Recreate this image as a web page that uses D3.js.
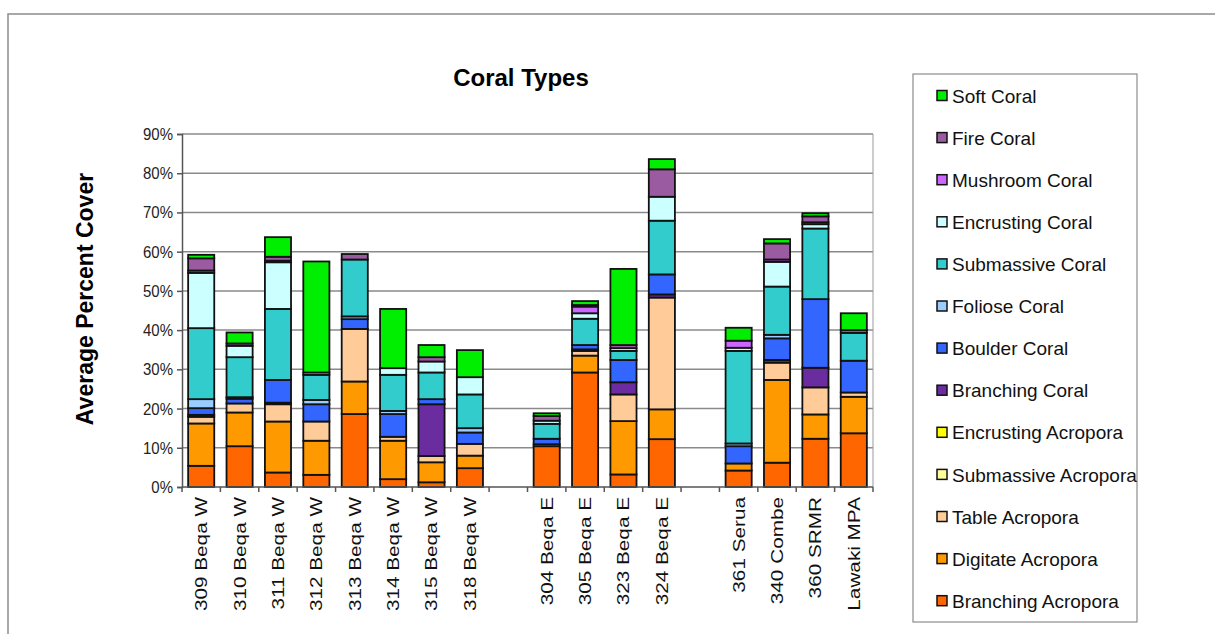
<!DOCTYPE html>
<html>
<head>
<meta charset="utf-8">
<script src="https://cdn.jsdelivr.net/npm/d3@7"></script>
<style>
  body { margin: 0; background: #fff; }
  svg { display: block; font-family: Arial, "Liberation Sans", sans-serif; }
</style>
</head>
<body>
<div id="chart"></div>
<script>
// sites along the x axis, "" = empty slot between the site groups
const sites = ["309 Beqa W", "310 Beqa W", "311 Beqa W", "312 Beqa W", "313 Beqa W", "314 Beqa W", "315 Beqa W", "318 Beqa W", "",
  "304 Beqa E", "305 Beqa E", "323 Beqa E", "324 Beqa E", "",
  "361 Serua", "340 Combe", "360 SRMR", "Lawaki MPA"];

// percent cover per coral type (bottom of the stack first)
const branchingAcropora  = [5.4, 10.4, 3.7, 3.1, 18.6, 2.0, 1.2, 4.8, 0, 10.4, 29.2, 3.2, 12.2, 0, 4.2, 6.2, 12.3, 13.7];
const digitateAcropora   = [10.8, 8.6, 13.0, 8.7, 8.3, 9.8, 5.1, 3.2, 0, 0, 4.3, 13.6, 7.6, 0, 1.8, 21.1, 6.2, 9.3];
const tableAcropora      = [1.7, 2.3, 4.4, 4.9, 13.4, 1.0, 1.6, 3.0, 0, 0.5, 1.2, 6.8, 28.5, 0, 0, 4.4, 6.9, 1.1];
const submassiveAcropora = [0, 0, 0, 0, 0, 0, 0, 0, 0, 0, 0, 0, 0, 0, 0, 0, 0, 0];
const encrustingAcropora = [0, 0, 0, 0, 0, 0, 0, 0, 0, 0, 0, 0, 0, 0, 0, 0, 0, 0];
const branchingCoral     = [0.5, 0, 0.4, 0, 0, 0, 13.2, 0, 0, 0, 0.4, 3.1, 0.8, 0, 0, 0.7, 5.0, 0];
const boulderCoral       = [1.7, 1.2, 5.8, 4.4, 2.5, 5.8, 1.3, 2.9, 0, 1.4, 1.1, 5.7, 5.1, 0, 4.4, 5.5, 17.5, 8.1];
const folioseCoral       = [2.3, 0.4, 0, 1.1, 0.7, 0.8, 0, 1.1, 0, 0, 0, 0, 0, 0, 0.7, 0.9, 0, 0];
const submassiveCoral    = [18.1, 10.2, 18.1, 6.4, 14.5, 9.2, 6.8, 8.6, 0, 3.8, 6.7, 2.3, 13.7, 0, 23.6, 12.3, 18.0, 7.1];
const encrustingCoral    = [14.1, 2.9, 11.9, 0.6, 0, 1.7, 2.8, 4.4, 0, 0.8, 1.4, 0.7, 6.1, 0, 0.8, 6.3, 1.1, 0];
const mushroomCoral      = [0.6, 0, 0.4, 0, 0, 0, 0, 0, 0, 0, 1.7, 0, 0, 0, 1.8, 0.6, 0.5, 0];
const fireCoral          = [3.1, 0.6, 1.0, 0, 1.4, 0, 1.1, 0, 0, 1.2, 0.4, 0.8, 7.0, 0, 0, 4.1, 1.5, 0.7];
const softCoral          = [0.9, 2.8, 5.0, 28.3, 0, 15.1, 3.1, 6.9, 0, 0.7, 1.0, 19.4, 2.6, 0, 3.3, 1.1, 0.8, 4.3];

const yTicks = [0, 10, 20, 30, 40, 50, 60, 70, 80, 90];

const series = [
  {key: "Branching Acropora", values: branchingAcropora, color: "#ff6600"},
  {key: "Digitate Acropora", values: digitateAcropora, color: "#ff9900"},
  {key: "Table Acropora", values: tableAcropora, color: "#ffcc99"},
  {key: "Submassive Acropora", values: submassiveAcropora, color: "#ffff99"},
  {key: "Encrusting Acropora", values: encrustingAcropora, color: "#ffff00"},
  {key: "Branching Coral", values: branchingCoral, color: "#6a2c9e"},
  {key: "Boulder Coral", values: boulderCoral, color: "#3366ff"},
  {key: "Foliose Coral", values: folioseCoral, color: "#99ccff"},
  {key: "Submassive Coral", values: submassiveCoral, color: "#33cccc"},
  {key: "Encrusting Coral", values: encrustingCoral, color: "#ccffff"},
  {key: "Mushroom Coral", values: mushroomCoral, color: "#cc66ff"},
  {key: "Fire Coral", values: fireCoral, color: "#9b5ba0"},
  {key: "Soft Coral", values: softCoral, color: "#00ee00"}
];

const W = 1215, H = 634;
const plot = {left: 182, right: 873, top: 134, bottom: 487};

const svg = d3.select("#chart").append("svg")
  .attr("width", W)
  .attr("height", H);

// outer chart frame (cut off at the right and bottom)
svg.append("path")
  .attr("d", `M8,${H}V14H${W}`)
  .attr("fill", "none")
  .attr("stroke", "#8c8c8c")
  .attr("stroke-width", 1.5);

// build rows for the stack
const data = sites.map((s, i) => {
  const row = {idx: i, site: s};
  series.forEach(sr => row[sr.key] = sr.values[i]);
  return row;
});
const keys = series.map(d => d.key);
const color = d3.scaleOrdinal().domain(keys).range(series.map(d => d.color));
const stacked = d3.stack().keys(keys)(data);

const x = d3.scaleBand()
  .domain(d3.range(sites.length))
  .range([plot.left, plot.right])
  .paddingInner(0.32)
  .paddingOuter(0.16);

const y = d3.scaleLinear()
  .domain([0, 90])
  .range([plot.bottom, plot.top]);

// gridlines
svg.append("g")
  .selectAll("line")
  .data(yTicks.slice(1))
  .join("line")
  .attr("x1", plot.left).attr("x2", plot.right)
  .attr("y1", d => y(d)).attr("y2", d => y(d))
  .attr("stroke", "#8a8a8a")
  .attr("stroke-width", 1.5);

// right edge of plot area
svg.append("line")
  .attr("x1", plot.right).attr("x2", plot.right)
  .attr("y1", plot.top).attr("y2", plot.bottom)
  .attr("stroke", "#9a9a9a")
  .attr("stroke-width", 1);

// y axis
const yAxis = svg.append("g")
  .attr("transform", `translate(${plot.left},0)`)
  .call(d3.axisLeft(y).tickValues(yTicks).tickFormat(d => d + "%").tickSize(5).tickPadding(4));
yAxis.select(".domain").attr("stroke", "#555").attr("stroke-width", 1.5);
yAxis.selectAll(".tick line").attr("stroke", "#555").attr("stroke-width", 1.5);
yAxis.selectAll(".tick text")
  .attr("fill", "#222")
  .style("font-size", "15px")
  .attr("transform", "scale(1,1.15)");

// bars
svg.append("g")
  .selectAll("g")
  .data(stacked)
  .join("g")
  .attr("fill", d => color(d.key))
  .selectAll("rect")
  .data(d => d.filter(p => p[1] - p[0] > 0))
  .join("rect")
  .attr("x", d => x(d.data.idx))
  .attr("y", d => y(d[1]))
  .attr("width", x.bandwidth())
  .attr("height", d => y(d[0]) - y(d[1]))
  .attr("stroke", "#111")
  .attr("stroke-width", 1.8);

// x axis line and tick marks at the slot boundaries
const half = x.step() * x.paddingInner() / 2;
const bounds = d3.range(sites.length + 1).map(i => i < sites.length ? x(i) - half : x(sites.length - 1) + x.bandwidth() + half);
const xAxis = svg.append("g");
xAxis.append("line")
  .attr("x1", plot.left).attr("x2", plot.right)
  .attr("y1", plot.bottom).attr("y2", plot.bottom)
  .attr("stroke", "#555").attr("stroke-width", 1.5);
xAxis.selectAll("line.tick")
  .data(bounds)
  .join("line")
  .attr("class", "tick")
  .attr("x1", d => d).attr("x2", d => d)
  .attr("y1", plot.bottom).attr("y2", plot.bottom + 5)
  .attr("stroke", "#555").attr("stroke-width", 1.5);

// site labels, rotated
svg.append("g")
  .selectAll("text")
  .data(data.filter(d => d.site !== ""))
  .join("text")
  .attr("transform", d => `translate(${x(d.idx) + x.bandwidth() / 2},${plot.bottom + 10}) rotate(-90) scale(1.22,1)`)
  .attr("text-anchor", "end")
  .attr("dy", "0.35em")
  .style("font-size", "17px")
  .attr("fill", "#111")
  .text(d => d.site);

// title
svg.append("text")
  .attr("x", 521).attr("y", 86)
  .attr("text-anchor", "middle")
  .style("font-size", "24px")
  .style("font-weight", "bold")
  .text("Coral Types");

// y axis label
svg.append("text")
  .attr("transform", "translate(85,299) rotate(-90)")
  .attr("text-anchor", "middle")
  .attr("dy", "0.35em")
  .style("font-size", "23px")
  .style("font-weight", "bold")
  .text("Average Percent Cover");

// legend, top item = top of stack
const legend = svg.append("g");
legend.append("rect")
  .attr("x", 913).attr("y", 74)
  .attr("width", 224).attr("height", 548)
  .attr("fill", "#fff")
  .attr("stroke", "#8c8c8c")
  .attr("stroke-width", 1.2);

const legendItems = series.slice().reverse();
const item = legend.selectAll("g.item")
  .data(legendItems)
  .join("g")
  .attr("class", "item")
  .attr("transform", (d, i) => `translate(937,${96 + i * 42.1})`);
item.append("rect")
  .attr("x", 0).attr("y", -5.5)
  .attr("width", 10).attr("height", 10)
  .attr("fill", d => d.color)
  .attr("stroke", "#111")
  .attr("stroke-width", 1.5);
item.append("text")
  .attr("x", 15)
  .attr("dy", "0.35em")
  .style("font-size", "19px")
  .attr("fill", "#111")
  .text(d => d.key);
</script>
</body>
</html>
